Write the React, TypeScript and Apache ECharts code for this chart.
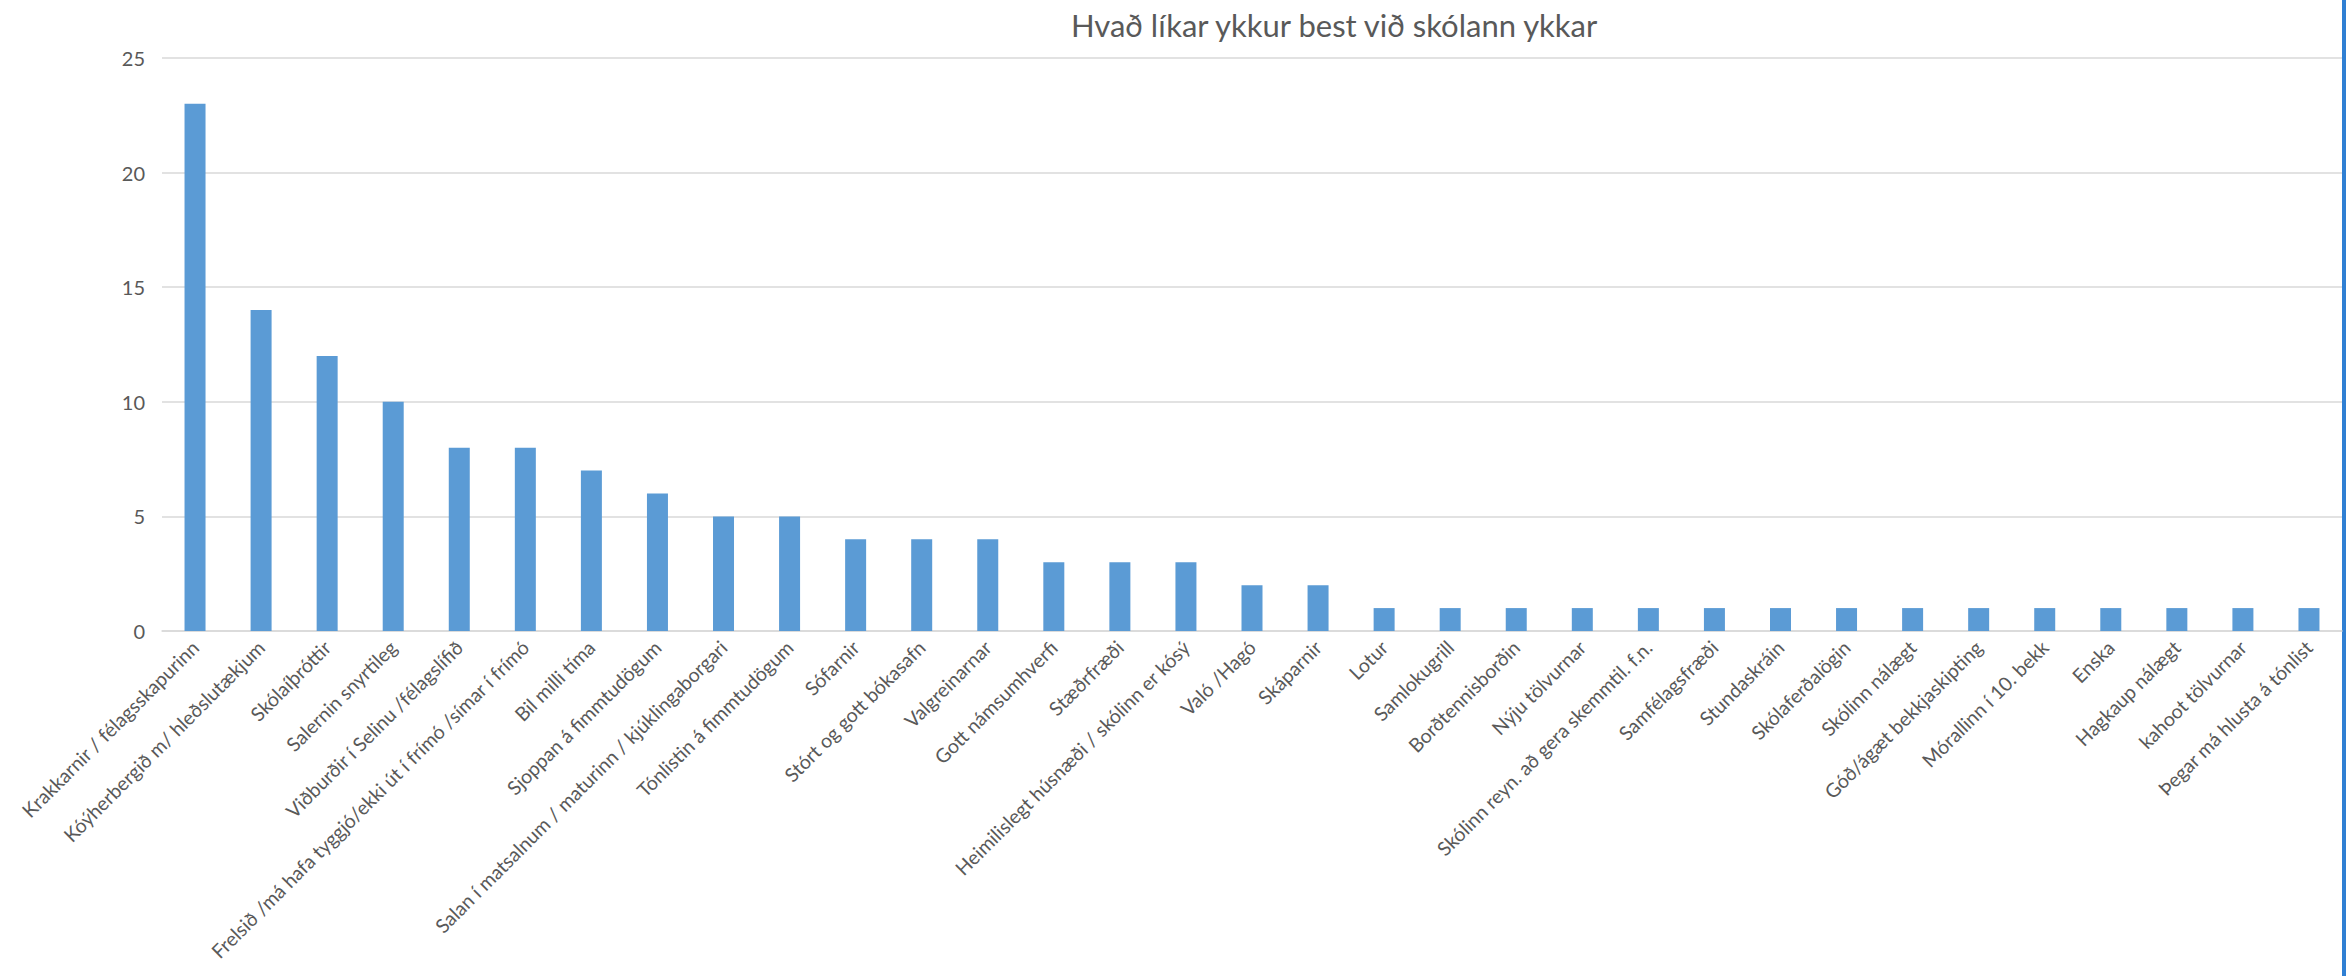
import React, { useEffect, useRef } from "react";
import * as echarts from "echarts";

const titleText = "Hvað líkar ykkur best við skólann ykkar";

const categories = [
  "Krakkarnir / félagsskapurinn",
  "Kóýherbergið m/ hleðslutækjum",
  "Skólaíþróttir",
  "Salernin snyrtileg",
  "Viðburðir í Selinu /félagslífið",
  "Frelsið /má hafa tyggjó/ekki út í frímó /símar í frímó",
  "Bil milli tíma",
  "Sjoppan á fimmtudögum",
  "Salan í matsalnum / maturinn / kjúklingaborgari",
  "Tónlistin á fimmtudögum",
  "Sófarnir",
  "Stórt og gott bókasafn",
  "Valgreinarnar",
  "Gott námsumhverfi",
  "Stæðrfræði",
  "Heimilislegt húsnæði / skólinn er kósý",
  "Való /Hagó",
  "Skáparnir",
  "Lotur",
  "Samlokugrill",
  "Borðtennisborðin",
  "Nýju tölvurnar",
  "Skólinn reyn. að gera skemmtil. f.n.",
  "Samfélagsfræði",
  "Stundaskráin",
  "Skólaferðalögin",
  "Skólinn nálægt",
  "Góð/ágæt bekkjaskipting",
  "Mórallinn í 10. bekk",
  "Enska",
  "Hagkaup nálægt",
  "kahoot tölvurnar",
  "Þegar má hlusta á tónlist",
];

const values = [
  23, 14, 12, 10, 8, 8, 7, 6, 5, 5, 4, 4, 4, 3, 3, 3, 2, 2,
  1, 1, 1, 1, 1, 1, 1, 1, 1, 1, 1, 1, 1, 1, 1,
];

const yMin = 0;
const yMax = 25;
const yStep = 5;

export default function App() {
  const ref = useRef<HTMLDivElement>(null);
  useEffect(() => {
    document.body.style.margin = "0";
    const chart = echarts.init(ref.current!, null, { renderer: "svg" });
    const font = "Lato, 'Noto Sans', sans-serif";
    chart.setOption({
      animation: false,
      backgroundColor: "#ffffff",
      title: {
        text: titleText,
        left: 1066,
        top: 4,
        textStyle: {
          fontFamily: font,
          fontSize: 31,
          fontWeight: "normal",
          color: "#595959",
        },
      },
      grid: {
        left: 162,
        right: 4,
        top: 58,
        bottom: 345,
        containLabel: false,
        outerBoundsMode: "none",
      },
      xAxis: {
        type: "category",
        data: categories,
        boundaryGap: true,
        axisLine: { lineStyle: { color: "#D9D9D9", width: 1.5 } },
        axisTick: { show: false },
        axisLabel: {
          interval: 0,
          rotate: 45,
          margin: 13,
          fontFamily: font,
          fontSize: 19.5,
          color: "#595959",
        },
      },
      yAxis: {
        type: "value",
        min: yMin,
        max: yMax,
        interval: yStep,
        axisLine: { show: false },
        axisTick: { show: false },
        splitLine: { lineStyle: { color: "#D9D9D9", width: 1.5 } },
        axisLabel: {
          margin: 17,
          fontFamily: font,
          fontSize: 20,
          color: "#595959",
        },
      },
      series: [
        {
          type: "bar",
          data: values,
          barWidth: 21,
          itemStyle: { color: "#5B9BD5" },
        },
      ],
      graphic: [
        {
          type: "rect",
          right: 0,
          top: 0,
          shape: { width: 4, height: 976 },
          style: { fill: "#2F7FD3" },
        },
      ],
    });
    return () => chart.dispose();
  }, []);
  return <div ref={ref} style={{ width: 2346, height: 976 }} />;
}
